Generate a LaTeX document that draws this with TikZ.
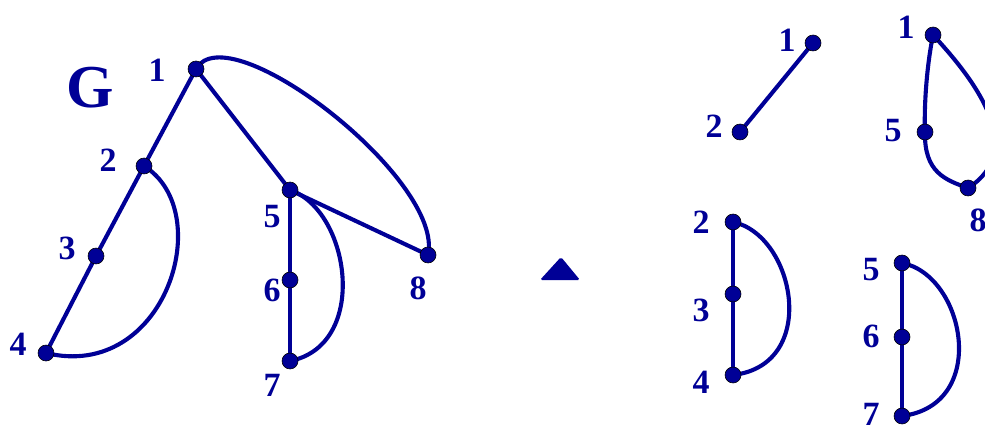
\documentclass[tikz,border=0pt]{standalone}
\usepackage{fontspec}
\setmainfont{Liberation Serif}
\usepackage{tikz}
\usetikzlibrary{backgrounds}

\definecolor{navy}{RGB}{0,0,150}

\begin{document}
\begin{tikzpicture}[x=0.03cm, y=-0.03cm,
    vtx/.style={circle, draw=black, line width=0.5pt, fill=navy, inner sep=0pt, minimum size=0.48cm},
    num/.style={text=navy, font=\fontsize{29}{32}\selectfont\bfseries, inner sep=0pt},
    edge/.style={draw=navy, line width=3.5pt}]
        % Frame of the picture
        \clip (0,0) rectangle (985,427);

        % Left graph G
        \node[text=navy, font=\fontsize{52}{56}\selectfont\bfseries] (gname) at (90,88) {G};
        \node[vtx] (g1) at (196,69) {};
        \node[vtx] (g2) at (144,166) {};
        \node[vtx] (g3) at (96,256) {};
        \node[vtx] (g4) at (46,353) {};
        \node[vtx] (g5) at (290,190) {};
        \node[vtx] (g6) at (290,280) {};
        \node[vtx] (g7) at (290,361) {};
        \node[vtx] (g8) at (428,255) {};

        % Labels of G
        \node[num] (l1) at (157,70) {1};
        \node[num] (l2) at (108,160) {2};
        \node[num] (l3) at (67,248) {3};
        \node[num] (l4) at (18,344) {4};
        \node[num] (l5) at (272,217) {5};
        \node[num] (l6) at (272,290) {6};
        \node[num] (l7) at (272,385) {7};
        \node[num] (l8) at (418,288) {8};

        % Triangle mark
        \fill[navy, rounded corners=1.5pt] (540,280) -- (561,257) -- (580,280) -- cycle;

        % Pieces on the right
        \node[vtx] (a1) at (813,43) {};
        \node[vtx] (a2) at (740,132) {};
        \node[vtx] (b1) at (933,35) {};
        \node[vtx] (b5) at (925,132) {};
        \node[vtx] (b8) at (968,188) {};
        \node[vtx] (c2) at (733,222) {};
        \node[vtx] (c3) at (733,294) {};
        \node[vtx] (c4) at (733,375) {};
        \node[vtx] (d5) at (902,263) {};
        \node[vtx] (d6) at (902,337) {};
        \node[vtx] (d7) at (902,416) {};

        \node[num] (la1) at (787,40) {1};
        \node[num] (la2) at (714,126) {2};
        \node[num] (lb1) at (906,27) {1};
        \node[num] (lb5) at (893,131) {5};
        \node[num] (lb8) at (978,220) {8};
        \node[num] (lc2) at (701,222) {2};
        \node[num] (lc3) at (701,310) {3};
        \node[num] (lc4) at (701,382) {4};
        \node[num] (ld5) at (871,270) {5};
        \node[num] (ld6) at (871,336) {6};
        \node[num] (ld7) at (871,414) {7};

        % Edges, behind the vertices
        \begin{scope}[on background layer]
        \draw[edge] (g1.center) -- (g2.center) -- (g3.center) -- (g4.center);
        \draw[edge] (g1.center) -- (g5.center) -- (g8.center);
        \draw[edge] (g5.center) -- (g6.center) -- (g7.center);
        \draw[edge] (g2.center) .. controls (218,212) and (165,382) .. (g4.center);
        \draw[edge] (g5.center) .. controls (350,210) and (370,345) .. (g7.center);
        \draw[edge] (g1.center) .. controls (228,12) and (445,180) .. (g8.center);

        \draw[edge] (a1.center) -- (a2.center);
        \draw[edge] (b1.center) .. controls (926,70) and (924,110) .. (b5.center);
        \draw[edge] (b5.center) .. controls (924,172) and (945,180) .. (b8.center);
        \draw[edge] (b1.center) .. controls (975,80) and (1028,150) .. (b8.center);
        \draw[edge] (c2.center) -- (c3.center) -- (c4.center);
        \draw[edge] (c2.center) .. controls (795,235) and (820,365) .. (c4.center);
        \draw[edge] (d5.center) -- (d6.center) -- (d7.center);
        \draw[edge] (d5.center) .. controls (965,275) and (990,405) .. (d7.center);
        \end{scope}
\end{tikzpicture}
\end{document}
